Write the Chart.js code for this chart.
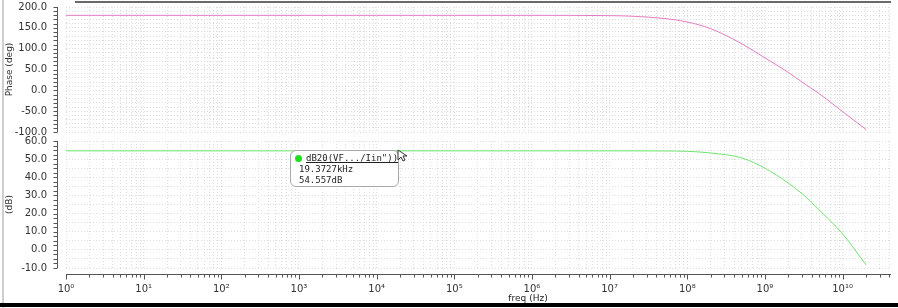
<!DOCTYPE html>
<html>
<head>
<meta charset="utf-8">
<script src="https://cdn.jsdelivr.net/npm/chart.js@4"></script>
<style>
body { margin: 0; width: 898px; height: 308px; position: relative; overflow: hidden; background: #fff; font-family: "DejaVu Sans", sans-serif; }
#phasebox { position: absolute; left: 0; top: 0; width: 898px; height: 140px; }
#gainbox { position: absolute; left: 0; top: 134px; width: 898px; height: 174px; }
.edge-left { position: absolute; left: 2px; top: 0; width: 2px; height: 308px; background: #cfcfcf; }
.edge-top { position: absolute; left: 75px; top: 1px; width: 816px; height: 2px; background: #6a6a6a; }
.edge-bottom { position: absolute; left: 0; top: 303px; width: 898px; height: 4px; background: #000; }
.marker { position: absolute; left: 290px; top: 150px; width: 107px; height: 35px; border: 1px solid #a8a8a8; border-radius: 6px; background: #fff;
  font-family: "DejaVu Sans Mono", monospace; font-size: 9px; color: #222; line-height: 11px; }
.marker .dot { position: absolute; left: 4px; top: 4px; width: 7px; height: 7px; border-radius: 50%; background: #22dd22; }
.marker .l1 { position: absolute; left: 15px; top: 2px; text-decoration: underline; }
.marker .l2 { position: absolute; left: 8px; top: 13px; }
.marker .l3 { position: absolute; left: 8px; top: 24px; }
.cursor { position: absolute; left: 397px; top: 149px; }
</style>
</head>
<body>
<div class="edge-left"></div>
<div class="edge-top"></div>
<div id="phasebox"><canvas id="phase" width="898" height="140"></canvas></div>
<div id="gainbox"><canvas id="gain" width="898" height="174"></canvas></div>
<div class="marker">
  <div class="dot"></div>
  <div class="l1">dB20(VF.../Iin"))</div>
  <div class="l2">19.3727kHz</div>
  <div class="l3">54.557dB</div>
</div>
<svg class="cursor" width="12" height="14"><path d="M1 1 L1 11 L4 8 L6 12 L8 11 L6 7 L10 7 Z" fill="#fff" stroke="#333" stroke-width="1"/></svg>
<div class="edge-bottom"></div>
<script>
// frequency sweep (Hz) and the two traces
const freq = [1, 10, 1e2, 1e3, 1e4, 1e5, 1e6, 1e7, 2e7, 5e7, 1e8, 2e8, 5e8, 1e9, 2e9, 3e9, 5e9, 1e10, 2e10]
const phaseDeg = [180, 180, 180, 180, 180, 180, 180, 179.3, 177.8, 172.5, 164, 148, 112, 78, 43, 20, -8, -51, -94]
const gainDb = [54.56, 54.56, 54.56, 54.56, 54.56, 54.56, 54.56, 54.56, 54.55, 54.5, 54.3, 53.4, 50.7, 45, 36.8, 31, 22, 8.8, -8.2]

const decades = [0, 1, 2, 3, 4, 5, 6, 7, 8, 9, 10]
const decadeLabels = ['10⁰', '10¹', '10²', '10³', '10⁴', '10⁵', '10⁶', '10⁷', '10⁸', '10⁹', '10¹⁰']
const phaseLabels = [-100, -50, 0, 50, 100, 150, 200]
const gainLabels = [-10, 0, 10, 20, 30, 40, 50, 60]

const fMin = 1
const fMax = 4.2e10

// log grid: 1..9 x 10^n
let logTicks = []
decades.forEach(d => {
    for (let m = 1; m <= 9; m++) {
        let v = m * Math.pow(10, d)
        if (v <= fMax) logTicks.push(v)
    }
})

function steps(lo, hi, st) {
    let out = []
    for (let v = lo; v <= hi + 1e-9; v += st) out.push(v)
    return out
}

const gridColor = '#dedede'

// axis lines sit a few px outside the plot, like the original tool
const axisLines = {
    id: 'axisLines',
    afterDraw(chart) {
        const ctx = chart.ctx
        const a = chart.chartArea
        const y = chart.scales.y
        const x = chart.scales.x
        ctx.save()
        ctx.strokeStyle = '#555'
        ctx.lineWidth = 1
        ctx.beginPath()
        const ax = a.left - 8.5
        ctx.moveTo(ax, a.top)
        ctx.lineTo(ax, a.bottom)
        y.ticks.forEach(t => {
            let py = Math.round(y.getPixelForValue(t.value)) + 0.5
            ctx.moveTo(ax - 4, py)
            ctx.lineTo(ax, py)
        })
        if (chart.options.plugins.axisLines.xAxis) {
            const ay = a.bottom + 6.5
            ctx.moveTo(a.left, ay)
            ctx.lineTo(a.right, ay)
            logTicks.forEach(v => {
                let px = Math.round(x.getPixelForValue(v)) + 0.5
                let major = Math.abs(Math.log10(v) - Math.round(Math.log10(v))) < 1e-9
                ctx.moveTo(px, ay)
                ctx.lineTo(px, ay + (major ? 5 : 3))
            })
        }
        ctx.stroke()
        if (chart.options.plugins.axisLines.xTitle) {
            ctx.fillStyle = '#222'
            ctx.font = '9px "DejaVu Sans"'
            ctx.textAlign = 'center'
            ctx.textBaseline = 'middle'
            ctx.fillText(chart.options.plugins.axisLines.xTitle, 528, a.bottom + 31)
        }
        ctx.restore()
    }
}

function makeX(showLabels) {
    return {
        type: 'logarithmic',
        min: fMin,
        max: fMax,
        afterBuildTicks: s => { s.ticks = logTicks.map(v => ({ value: v })) },
        // tick marks are invisible, they only push the labels down
        grid: { color: gridColor, drawTicks: showLabels, tickLength: 15, tickColor: 'rgba(0,0,0,0)' },
        border: { display: false, dash: [1, 2] },
        ticks: {
            display: showLabels,
            autoSkip: false,
            maxRotation: 0,
            padding: 0,
            color: '#333',
            font: { family: 'DejaVu Sans', size: 10 },
            callback: v => {
                let i = decades.findIndex(d => Math.abs(Math.pow(10, d) - v) < 1e-6 * v)
                return i >= 0 ? decadeLabels[i] : ''
            }
        }
    }
}

function makeY(lo, hi, minor, gridStep, labels, title) {
    return {
        min: lo,
        max: hi,
        afterBuildTicks: s => { s.ticks = steps(lo, hi, minor).map(v => ({ value: v })) },
        afterFit: s => { s.width = 66 },
        grid: {
            color: c => Math.abs(c.tick.value / gridStep - Math.round(c.tick.value / gridStep)) < 1e-6 ? gridColor : 'rgba(0,0,0,0)',
            drawTicks: true,
            tickLength: 19,
            tickColor: 'rgba(0,0,0,0)'
        },
        border: { display: false, dash: [1, 2] },
        ticks: {
            autoSkip: false,
            padding: 0,
            color: '#333',
            font: { family: 'DejaVu Sans', size: 10 },
            callback: v => labels.includes(Math.round(v * 10) / 10) ? v.toFixed(1) : ''
        },
        title: { display: true, text: title, color: '#333', font: { family: 'DejaVu Sans', size: 9 }, padding: { top: 4, bottom: 0 } }
    }
}

let phasechart = new Chart(document.querySelector('#phase'), {
    type: 'line',
    data: {
        datasets: [{
            data: freq.map((f, i) => ({ x: f, y: phaseDeg[i] })),
            borderColor: '#e37cc3',
            borderWidth: 1,
            pointRadius: 0,
            cubicInterpolationMode: 'monotone'
        }]
    },
    options: {
        responsive: false,
        animation: false,
        layout: { padding: { top: 7, bottom: 8, right: 7, left: 0 } },
        plugins: { legend: { display: false }, tooltip: { enabled: false }, axisLines: { xAxis: false } },
        scales: {
            x: makeX(false),
            y: makeY(-100, 200, 10, 10, phaseLabels, 'Phase (deg)')
        }
    },
    plugins: [axisLines]
})

let gainchart = new Chart(document.querySelector('#gain'), {
    type: 'line',
    data: {
        datasets: [{
            data: freq.map((f, i) => ({ x: f, y: gainDb[i] })),
            borderColor: '#6fe36f',
            borderWidth: 1,
            pointRadius: 0,
            cubicInterpolationMode: 'monotone'
        }]
    },
    options: {
        responsive: false,
        animation: false,
        layout: { padding: { top: 7, bottom: 13, right: 7, left: 0 } },
        plugins: { legend: { display: false }, tooltip: { enabled: false }, axisLines: { xAxis: true, xTitle: 'freq (Hz)' } },
        scales: {
            x: makeX(true),
            y: makeY(-10, 60, 2.5, 5, gainLabels, '(dB)')
        }
    },
    plugins: [axisLines]
})
</script>
</body>
</html>
